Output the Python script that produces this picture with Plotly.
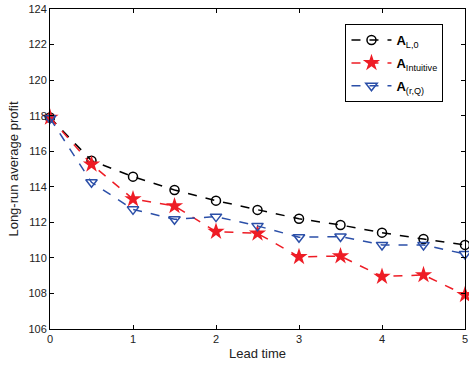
import plotly.graph_objects as go

lead_time = [0, 0.5, 1, 1.5, 2, 2.5, 3, 3.5, 4, 4.5, 5]
a_l0 = [117.9, 115.47, 114.57, 113.82, 113.22, 112.7, 112.2, 111.85, 111.42, 111.06, 110.73]
a_intuitive = [117.9, 115.26, 113.31, 112.92, 111.48, 111.38, 110.06, 110.1, 108.95, 109.04, 107.92]
a_rq = [117.85, 114.25, 112.73, 112.17, 112.32, 111.8, 111.16, 111.2, 110.73, 110.73, 110.22]

fig = go.Figure()
fig.add_trace(go.Scatter(x=lead_time, y=a_l0, mode="lines+markers",
                         name="<b>A</b><sub>L,0</sub>", legendgroup="g1",
                         line=dict(color="black", dash="dash", width=1.5),
                         marker=dict(symbol="circle-open", size=9, color="black", line=dict(width=1.5)),
                         cliponaxis=False))
fig.add_trace(go.Scatter(x=lead_time, y=a_intuitive, mode="lines+markers",
                         name="<b>A</b><sub>Intuitive</sub>", legendgroup="g2",
                         line=dict(color="#ee1c25", dash="dash", width=1.5),
                         marker=dict(symbol="star", size=13, color="#ee1c25"),
                         cliponaxis=False))
fig.add_trace(go.Scatter(x=lead_time, y=a_rq, mode="lines+markers",
                         name="<b>A</b><sub>(r,Q)</sub>", legendgroup="g3",
                         line=dict(color="#2b4fa8", dash="dash", width=1.5),
                         marker=dict(symbol="triangle-down-open", size=10, color="#2b4fa8", line=dict(width=1.5)),
                         cliponaxis=False))

axis_common = dict(showline=True, linecolor="black", linewidth=1, mirror="ticks",
                   ticks="inside", ticklen=4, tickcolor="black", showgrid=False, zeroline=False,
                   ticklabeloverflow="allow",
                   tickfont=dict(family="Liberation Sans, Arial", size=11, color="#222"))
fig.update_layout(
    width=469, height=371,
    margin=dict(l=50, r=1, t=9, b=42),
    paper_bgcolor="white", plot_bgcolor="white",
    font=dict(family="Liberation Sans, Arial", size=11, color="#222"),
    xaxis=dict(range=[0, 5], dtick=1, title=dict(text="Lead time", standoff=4), **axis_common),
    yaxis=dict(range=[106, 124], dtick=2, title=dict(text="Long-run average profit", standoff=6), **axis_common),
    legend=dict(x=0.712, y=0.953, xanchor="left", yanchor="top", bordercolor="black", borderwidth=1,
                bgcolor="white", font=dict(size=13, color="black"), tracegroupgap=3, itemwidth=40),
    showlegend=True,
)
fig.write_html("out.html")
